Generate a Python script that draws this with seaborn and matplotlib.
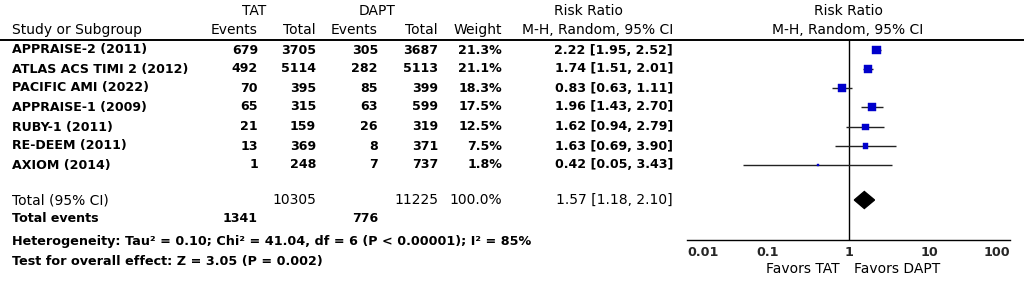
import numpy as np
import pandas as pd
import matplotlib
matplotlib.use("Agg")
import matplotlib.pyplot as plt
import seaborn as sns

# ---------------- data ----------------
studies = ["APPRAISE-2 (2011)", "ATLAS ACS TIMI 2 (2012)", "PACIFIC AMI (2022)",
           "APPRAISE-1 (2009)", "RUBY-1 (2011)", "RE-DEEM (2011)", "AXIOM (2014)"]
tat_events = [679, 492, 70, 65, 21, 13, 1]
tat_total = [3705, 5114, 395, 315, 159, 369, 248]
dapt_events = [305, 282, 85, 63, 26, 8, 7]
dapt_total = [3687, 5113, 399, 599, 319, 371, 737]
weights = [21.3, 21.1, 18.3, 17.5, 12.5, 7.5, 1.8]
rr = [2.22, 1.74, 0.83, 1.96, 1.62, 1.63, 0.42]
rr_lo = [1.95, 1.51, 0.63, 1.43, 0.94, 0.69, 0.05]
rr_hi = [2.52, 2.01, 1.11, 2.70, 2.79, 3.90, 3.43]

total_tat = 10305
total_dapt = 11225
total_weight = "100.0%"
pooled_rr, pooled_lo, pooled_hi = 1.57, 1.18, 2.10
events_tat_sum = 1341
events_dapt_sum = 776
heterogeneity = "Heterogeneity: Tau\u00b2 = 0.10; Chi\u00b2 = 41.04, df = 6 (P < 0.00001); I\u00b2 = 85%"
overall_test = "Test for overall effect: Z = 3.05 (P = 0.002)"

axis_ticks = [0.01, 0.1, 1, 10, 100]
axis_labels = ["0.01", "0.1", "1", "10", "100"]

# ---------------- layout (pixels) ----------------
W, H = 1024, 290
sns.set_theme(style="white")
plt.rcParams["font.family"] = ["DejaVu Sans"]

fig = plt.figure(figsize=(W / 100, H / 100), dpi=100)
ax_t = fig.add_axes([0, 0, 1, 1])
ax_t.set_xlim(0, W)
ax_t.set_ylim(H, 0)
ax_t.axis("off")

row_y = [50, 69, 88, 107, 127, 146, 165]
y_total, y_events, y_het, y_test = 200, 219, 242, 262
FS_N = 10.0   # regular-weight text
FS_B = 9.1    # bold text
col = dict(te=258, tt=316, de=378, dt=438, w=502, rr=673)

def t(x, y, s, ha="left", bold=False, size=None):
    if size is None:
        size = FS_B if bold else FS_N
    ax_t.text(x, y, s, ha=ha, va="center", fontsize=size,
              fontweight="bold" if bold else "normal", color="black")

# headers
t(254, 11, "TAT", ha="center")
t(377, 11, "DAPT", ha="center")
t(588, 11, "Risk Ratio", ha="center")
t(848, 11, "Risk Ratio", ha="center")
t(12, 30, "Study or Subgroup")
t(col["te"], 30, "Events", ha="right")
t(col["tt"], 30, "Total", ha="right")
t(col["de"], 30, "Events", ha="right")
t(col["dt"], 30, "Total", ha="right")
t(col["w"], 30, "Weight", ha="right")
t(col["rr"], 30, "M-H, Random, 95% CI", ha="right")
t(848, 30, "M-H, Random, 95% CI", ha="center")
ax_t.plot([0, W], [40, 40], color="black", lw=1.4)

for i, s in enumerate(studies):
    y = row_y[i]
    t(12, y, s, bold=True)
    t(col["te"], y, str(tat_events[i]), ha="right", bold=True)
    t(col["tt"], y, str(tat_total[i]), ha="right", bold=True)
    t(col["de"], y, str(dapt_events[i]), ha="right", bold=True)
    t(col["dt"], y, str(dapt_total[i]), ha="right", bold=True)
    t(col["w"], y, f"{weights[i]:.1f}%", ha="right", bold=True)
    t(col["rr"], y, f"{rr[i]:.2f} [{rr_lo[i]:.2f}, {rr_hi[i]:.2f}]", ha="right", bold=True)

t(12, y_total, "Total (95% CI)")
t(col["tt"], y_total, str(total_tat), ha="right")
t(col["dt"], y_total, str(total_dapt), ha="right")
t(col["w"], y_total, total_weight, ha="right")
t(col["rr"], y_total, f"{pooled_rr:.2f} [{pooled_lo:.2f}, {pooled_hi:.2f}]", ha="right")
t(12, y_events, "Total events", bold=True)
t(col["te"], y_events, str(events_tat_sum), ha="right", bold=True)
t(col["de"], y_events, str(events_dapt_sum), ha="right", bold=True)
t(12, y_het, heterogeneity, bold=True, size=9.2)
t(12, y_test, overall_test, bold=True, size=9.2)

# ---------------- forest panel ----------------
x0, x1 = 687, 1010
y_top, y_axis = 40, 240
ax_f = fig.add_axes([x0 / W, (H - y_axis) / H, (x1 - x0) / W, (y_axis - y_top) / H])
ax_f.set_facecolor("none")
ax_f.set_xscale("log")
ax_f.set_xlim(0.01, 100)
ax_f.set_ylim(y_axis, y_top)

ax_f.axvline(1, color="black", lw=1.0, zorder=1)
ax_f.hlines(row_y, rr_lo, rr_hi, color="#222222", lw=1.0, zorder=2)

df = pd.DataFrame({"rr": rr, "y": row_y, "w": weights})
sns.scatterplot(data=df, x="rr", y="y", size="w", sizes=(3, 38), marker="s",
                color="#0000cc", edgecolor="#0000cc", linewidth=0.3,
                legend=False, ax=ax_f, zorder=3)

ax_f.fill([pooled_lo, pooled_rr, pooled_hi, pooled_rr],
          [y_total, y_total - 8.5, y_total, y_total + 8.5],
          color="black", zorder=3)

for side in ["top", "right", "left"]:
    ax_f.spines[side].set_visible(False)
ax_f.spines["bottom"].set_color("black")
ax_f.spines["bottom"].set_linewidth(1.0)
ax_f.set_xticks(axis_ticks)
ax_f.set_xticklabels(axis_labels, fontsize=9.2, fontweight="bold")
tl = ax_f.get_xticklabels()
tl[0].set_horizontalalignment("left")
tl[-1].set_horizontalalignment("right")
ax_f.xaxis.set_minor_locator(matplotlib.ticker.NullLocator())
ax_f.tick_params(axis="x", direction="inout", length=8, width=1.0, pad=0, color="black")
ax_f.set_yticks([])
ax_f.set_xlabel("")
ax_f.set_ylabel("")

t(803, 269, "Favors TAT", ha="center")
t(897, 269, "Favors DAPT", ha="center")

fig.savefig("out.png", dpi=100)
